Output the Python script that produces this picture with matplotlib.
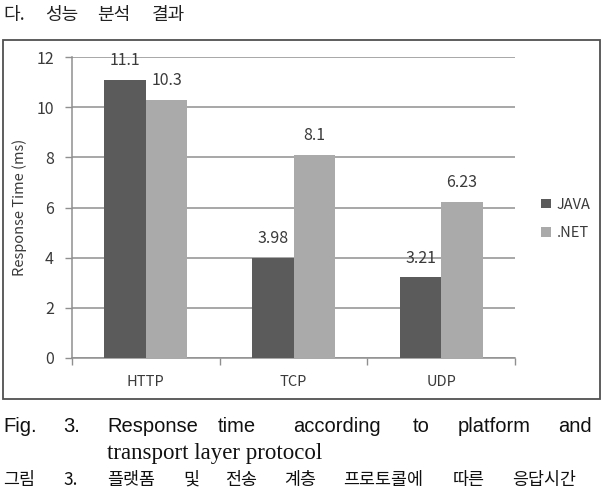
import matplotlib
matplotlib.use("Agg")
import matplotlib.pyplot as plt
from matplotlib.patches import Rectangle
import numpy as np

# data
categories = ["HTTP", "TCP", "UDP"]
series_names = ["JAVA", ".NET"]
java_values = [11.1, 3.98, 3.21]
net_values = [10.3, 8.1, 6.23]
java_labels = ["11.1", "3.98", "3.21"]
net_labels = ["10.3", "8.1", "6.23"]
y_ticks = [0, 2, 4, 6, 8, 10, 12]

header_words = ["다.", "성능", "분석", "결과"]
caption_en_words = ["Fig.", "3.", "Response", "time", "according", "to", "platform", "and"]
caption_en_line2 = "transport layer protocol"
caption_ko_words = ["그림", "3.", "플랫폼", "및", "전송", "계층", "프로토콜에", "따른", "응답시간"]

W, H = 601, 491
KO = ["Noto Sans CJK KR", "DejaVu Sans"]
plt.rcParams["font.family"] = KO

fig = plt.figure(figsize=(W / 100, H / 100), dpi=100)


def fx(px):
    return px / W


def fy(py):
    return 1 - py / H


# chart frame
fig.patches.append(Rectangle((fx(3), fy(399)), fx(597), fy(40) - fy(399),
                             transform=fig.transFigure, fill=False,
                             edgecolor="#505050", linewidth=1.3))

# ------------------------------------------------------------
# bar chart
# ------------------------------------------------------------
ax = fig.add_axes([fx(72), fy(358), fx(515) - fx(72), fy(57) - fy(358)])

x = np.arange(len(categories))
bw = 0.28
java_color = "#5b5b5b"
net_color = "#aaaaaa"
grid_color = "#8f8f8f"
text_color = "#3a3a3a"

b1 = ax.bar(x - bw / 2, java_values, bw, color=java_color, label=series_names[0], zorder=3)
b2 = ax.bar(x + bw / 2, net_values, bw, color=net_color, label=series_names[1], zorder=3)

for bars, labels in [(b1, java_labels), (b2, net_labels)]:
    for rect, lab in zip(bars, labels):
        ax.annotate(lab, (rect.get_x() + rect.get_width() / 2, rect.get_height()),
                    xytext=(0, 14), textcoords="offset points",
                    ha="center", va="center", fontsize=11.5, color=text_color)

ax.set_xlim(-0.5, 2.5)
ax.set_ylim(0, 12)
ax.set_yticks(y_ticks)
ax.yaxis.grid(True, color=grid_color, linewidth=1.1, zorder=0)
ax.set_axisbelow(True)

ax.set_xticks(x)
ax.set_xticklabels(categories)
ax.set_xticks([-0.5, 0.5, 1.5, 2.5], minor=True)
ax.tick_params(axis="x", which="major", length=0, pad=12, labelsize=10.5, labelcolor=text_color)
ax.tick_params(axis="x", which="minor", length=5, color=grid_color, width=1)
ax.tick_params(axis="y", length=5, color=grid_color, width=1, pad=8,
               labelsize=11.5, labelcolor=text_color)

for side in ["top", "right"]:
    ax.spines[side].set_visible(False)
for side in ["left", "bottom"]:
    ax.spines[side].set_color(grid_color)
    ax.spines[side].set_linewidth(1.1)

fig.text(fx(20), fy(207), "Response Time (ms)", rotation=90, ha="center", va="center",
         fontsize=10.5, color=text_color)

fig.legend(handles=[b1, b2], labels=series_names, loc="center left",
           bbox_to_anchor=(fx(528), fy(219)), frameon=False, fontsize=10.5,
           handlelength=0.65, handleheight=0.65, handletextpad=0.4,
           labelspacing=1.0, labelcolor=text_color)

# ------------------------------------------------------------
# page text
# ------------------------------------------------------------
header_x = [3, 45, 97, 152]
for word, px in zip(header_words, header_x):
    fig.text(fx(px), fy(15), word, ha="left", va="center", fontsize=13, color="#222222")

caption_x = [3, 63, 107, 218, 293, 413, 458, 558]
for word, px in zip(caption_en_words, caption_x):
    fig.text(fx(px), fy(426), word, ha="left", va="center", fontsize=14.5,
             family=["Liberation Sans", "DejaVu Sans"], color="#111111")

fig.text(fx(107), fy(453), caption_en_line2, ha="left", va="center", fontsize=16.5,
         family=["Liberation Serif", "DejaVu Serif"], color="#111111")

ko_x = [3, 63, 107, 183, 225, 284, 343, 453, 512]
for word, px in zip(caption_ko_words, ko_x):
    fig.text(fx(px), fy(489), word, ha="left", va="bottom", fontsize=12.5, color="#111111")

fig.savefig("out.png", dpi=100)
